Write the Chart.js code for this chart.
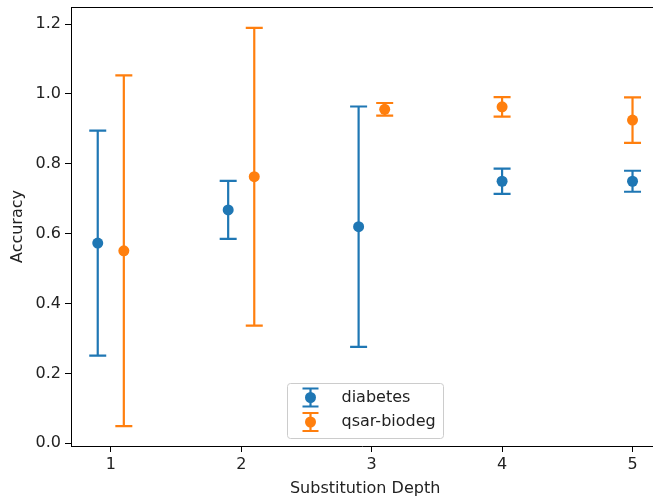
<!DOCTYPE html>
<html>
<head>
<meta charset="utf-8">
<script src="https://cdn.jsdelivr.net/npm/chart.js@4"></script>
<style>
html,body{margin:0;padding:0;background:#fff;overflow:hidden;}
</style>
</head>
<body>
<canvas id="chart" width="653" height="499"></canvas>
<script>

/* ================= DATA ================= */

let xTicks = [1,2,3,4,5];
let yTicks = [0,0.2,0.4,0.6,0.8,1.0,1.2];

// x positions as plotted (dodged at depths 1-3 only)
let diabetesX = [0.9,1.9,2.9,4,5];
let diabetesMean = [0.573,0.668,0.620,0.750,0.750];
let diabetesErr = [0.322,0.083,0.344,0.036,0.030];

let qsarX = [1.1,2.1,3.1,4,5];
let qsarMean = [0.551,0.763,0.956,0.963,0.925];
let qsarErr = [0.502,0.426,0.018,0.028,0.065];

// full x range of the original axes; the picture is cut at the right
let xMin = 0.695;
let xMax = 5.205;
let xVisibleMax = 5.157;

let blue = "#1f77b4";
let orange = "#ff7f0e";
let font = "DejaVu Sans";

function points(xs,means){
return xs.map((x,i)=>({x:x,y:means[i]}));
}

/* ================= ERROR BARS ================= */

let errorBars = {
id:"errorBars",
beforeDatasetsDraw(chart){
let ctx = chart.ctx;
let xs = chart.scales.x;
let ys = chart.scales.y;
chart.data.datasets.forEach(ds=>{
ctx.save();
ctx.strokeStyle = ds.backgroundColor;
ctx.lineWidth = 2.2;
ds.data.forEach((p,i)=>{
let x = xs.getPixelForValue(p.x);
let top = ys.getPixelForValue(p.y + ds.errors[i]);
let bot = ys.getPixelForValue(p.y - ds.errors[i]);
ctx.beginPath();
ctx.moveTo(x,top); ctx.lineTo(x,bot);
ctx.moveTo(x-8.5,top); ctx.lineTo(x+8.5,top);
ctx.moveTo(x-8.5,bot); ctx.lineTo(x+8.5,bot);
ctx.stroke();
});
ctx.restore();
});
}
};

/* ================= FRAME + TITLE + LEGEND ================= */

let frameLegend = {
id:"frameLegend",
afterDraw(chart){
let ctx = chart.ctx;
let a = chart.chartArea;
let mid = chart.scales.x.getPixelForValue((xMin+xMax)/2);
ctx.save();

// the right spine lies outside the picture: keep the edge clear
ctx.fillStyle = "#fff";
ctx.fillRect(a.right-2,a.top+1,2,a.bottom-a.top-2);

ctx.strokeStyle = "#000";
ctx.lineWidth = 1;
ctx.beginPath();
ctx.moveTo(a.left,a.top+0.5);
ctx.lineTo(a.right,a.top+0.5);
ctx.stroke();

ctx.font = "16px '" + font + "'";
ctx.fillStyle = "#222";
ctx.textAlign = "center";
ctx.textBaseline = "middle";
ctx.fillText("Substitution Depth",mid,489);

// legend box, lower center
let w = 156, h = 55;
let bx = Math.round(mid - w/2) + 0.5;
let by = a.bottom - 8 - h + 0.5;
ctx.fillStyle = "rgba(255,255,255,0.8)";
ctx.strokeStyle = "#cccccc";
ctx.beginPath();
ctx.roundRect(bx,by,w,h,3);
ctx.fill();
ctx.stroke();

ctx.textAlign = "left";
chart.data.datasets.forEach((ds,i)=>{
let cy = by + 14 + i*24.5;
let cx = bx + 23;
ctx.strokeStyle = ds.backgroundColor;
ctx.lineWidth = 2.2;
ctx.beginPath();
ctx.moveTo(cx,cy-9); ctx.lineTo(cx,cy+9);
ctx.moveTo(cx-8,cy-9); ctx.lineTo(cx+8,cy-9);
ctx.moveTo(cx-8,cy+9); ctx.lineTo(cx+8,cy+9);
ctx.stroke();
ctx.fillStyle = ds.backgroundColor;
ctx.beginPath();
ctx.arc(cx,cy,5.5,0,Math.PI*2);
ctx.fill();
ctx.fillStyle = "#222";
ctx.fillText(ds.label,bx+54,cy);
});
ctx.restore();
}
};

/* ================= CHART ================= */

new Chart(document.getElementById("chart"),{
type:"scatter",
data:{
datasets:[
{label:"diabetes",data:points(diabetesX,diabetesMean),errors:diabetesErr,backgroundColor:blue,borderWidth:0,pointRadius:5.5},
{label:"qsar-biodeg",data:points(qsarX,qsarMean),errors:qsarErr,backgroundColor:orange,borderWidth:0,pointRadius:5.5}
]
},
options:{
responsive:false,
devicePixelRatio:1,
animation:false,
events:[],
layout:{autoPadding:false,padding:{left:0,top:7,right:0,bottom:0}},
plugins:{legend:{display:false},tooltip:{enabled:false}},
scales:{
x:{
type:"linear",
min:xMin,
max:xVisibleMax,
afterBuildTicks:s=>{s.ticks = xTicks.map(v=>({value:v}));},
afterFit:s=>{s.height = 53; s.paddingLeft = 0; s.paddingRight = 0;},
grid:{drawOnChartArea:false,tickLength:6,tickColor:"#000"},
border:{color:"#000",width:1},
ticks:{padding:3,color:"#222",font:{family:font,size:16},callback:v=>String(v)}
},
y:{
min:-0.0077,
max:1.2487,
afterBuildTicks:s=>{s.ticks = yTicks.map(v=>({value:v}));},
afterFit:s=>{s.width = 71; s.paddingTop = 0; s.paddingBottom = 0;},
grid:{drawOnChartArea:false,tickLength:6,tickColor:"#000"},
border:{color:"#000",width:1},
ticks:{padding:4,color:"#222",font:{family:font,size:16},callback:v=>v.toFixed(1)},
title:{display:true,text:"Accuracy",color:"#222",font:{family:font,size:16},padding:{top:8,bottom:0}}
}
}
},
plugins:[errorBars,frameLegend]
});

</script>
</body>
</html>
